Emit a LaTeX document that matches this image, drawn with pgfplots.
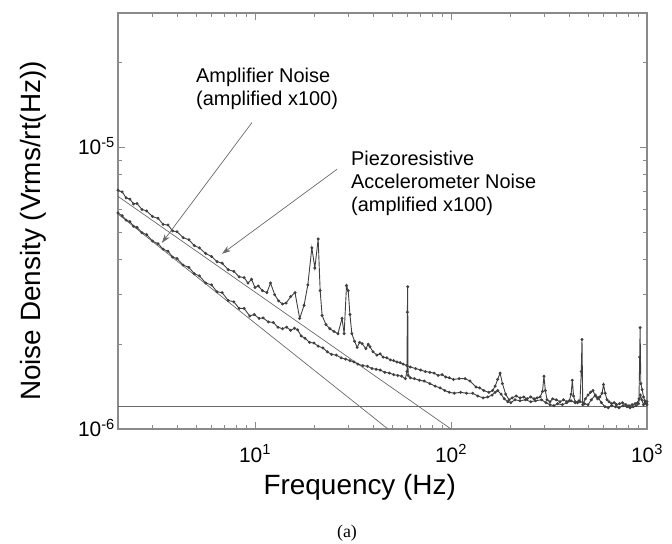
\documentclass[border=0pt]{standalone}
\usepackage{fontspec}
\setmainfont{Liberation Sans}
\newfontfamily\capfont{Liberation Serif}
\usepackage{pgfplots}
\usepackage{pgfplotstable}
\pgfplotsset{compat=1.18}
\usetikzlibrary{arrows.meta}
\definecolor{datagray}{HTML}{404040}
\definecolor{fitgray}{HTML}{6A6A6A}
\definecolor{framegray}{HTML}{8A8A8A}

% piezoresistive accelerometer noise (upper trace)
\pgfplotstableread{
f v
2.0 7.05e-6
2.1 6.95e-6
2.2 6.62e-6
2.3 6.55e-6
2.4 6.30e-6
2.5 6.32e-6
2.65 6.02e-6
2.8 5.95e-6
3.0 5.68e-6
3.2 5.60e-6
3.4 5.33e-6
3.6 5.30e-6
3.8 5.05e-6
4.0 5.02e-6
4.3 4.78e-6
4.6 4.70e-6
4.9 4.48e-6
5.2 4.40e-6
5.6 4.20e-6
6.0 4.10e-6
6.4 3.93e-6
6.8 3.88e-6
7.3 3.68e-6
7.8 3.63e-6
8.3 3.47e-6
8.8 3.45e-6
9.2 3.30e-6
9.6 3.40e-6
10.0 3.18e-6
10.4 3.22e-6
10.9 3.10e-6
11.5 3.05e-6
12.0 3.30e-6
12.6 3.00e-6
13.2 2.85e-6
13.8 2.78e-6
14.4 2.80e-6
15.2 2.95e-6
16.0 3.05e-6
16.9 2.47e-6
17.8 2.75e-6
18.6 3.25e-6
19.5 4.40e-6
20.2 3.73e-6
21.0 4.73e-6
21.5 3.10e-6
22.0 2.53e-6
23.0 2.35e-6
24.1 2.27e-6
25.3 2.22e-6
26.5 2.18e-6
27.8 2.47e-6
28.5 2.18e-6
29.3 3.23e-6
29.9 3.10e-6
30.5 2.55e-6
31.2 2.18e-6
32.2 2.05e-6
33.2 1.95e-6
34.2 2.03e-6
35.2 2.01e-6
36.8 1.93e-6
37.8 2.00e-6
38.6 1.96e-6
40.0 1.88e-6
41.9 1.83e-6
43.5 1.85e-6
45.0 1.80e-6
47.0 1.79e-6
49.0 1.76e-6
51.0 1.75e-6
53.0 1.73e-6
55.0 1.72e-6
57.0 1.70e-6
59.5 1.68e-6
62 1.66e-6
66 1.64e-6
70 1.62e-6
74 1.60e-6
78 1.59e-6
82 1.58e-6
86 1.55e-6
90 1.56e-6
94 1.53e-6
98 1.52e-6
103 1.50e-6
110 1.51e-6
118 1.51e-6
125 1.48e-6
134 1.41e-6
140 1.40e-6
147 1.37e-6
156 1.35e-6
163 1.37e-6
168 1.42e-6
173 1.50e-6
178 1.58e-6
183 1.45e-6
190 1.33e-6
198 1.27e-6
205 1.29e-6
215 1.31e-6
225 1.29e-6
235 1.30e-6
245 1.28e-6
255 1.30e-6
265 1.28e-6
275 1.29e-6
285 1.30e-6
293 1.36e-6
298 1.54e-6
303 1.37e-6
309 1.27e-6
320 1.25e-6
330 1.28e-6
344 1.27e-6
360 1.25e-6
375 1.27e-6
390 1.25e-6
401 1.26e-6
410 1.33e-6
416 1.49e-6
422 1.31e-6
430 1.25e-6
442 1.24e-6
455 1.25e-6
462 1.60e-6
466 2.08e-6
470 1.22e-6
485 1.28e-6
500 1.32e-6
515 1.35e-6
530 1.37e-6
545 1.31e-6
560 1.28e-6
575 1.30e-6
590 1.34e-6
600 1.44e-6
612 1.34e-6
625 1.27e-6
640 1.25e-6
660 1.23e-6
680 1.24e-6
700 1.22e-6
725 1.23e-6
750 1.24e-6
780 1.22e-6
810 1.21e-6
840 1.22e-6
870 1.23e-6
895 1.24e-6
910 1.28e-6
918 1.80e-6
922 2.29e-6
930 1.45e-6
945 1.38e-6
960 1.30e-6
975 1.26e-6
990 1.23e-6
1000 1.25e-6
}\piezo

% amplifier noise (lower trace)
\pgfplotstableread{
f v
2.0 5.85e-6
2.1 5.72e-6
2.2 5.52e-6
2.3 5.45e-6
2.4 5.25e-6
2.5 5.20e-6
2.65 4.98e-6
2.8 4.90e-6
3.0 4.65e-6
3.2 4.55e-6
3.4 4.35e-6
3.6 4.28e-6
3.8 4.08e-6
4.0 4.03e-6
4.3 3.82e-6
4.6 3.75e-6
4.9 3.56e-6
5.2 3.50e-6
5.6 3.30e-6
6.0 3.25e-6
6.4 3.07e-6
6.8 3.05e-6
7.3 2.86e-6
7.8 2.83e-6
8.3 2.68e-6
8.8 2.68e-6
9.4 2.52e-6
9.9 2.55e-6
10.5 2.47e-6
11.0 2.48e-6
11.7 2.40e-6
12.4 2.39e-6
13.1 2.30e-6
13.8 2.27e-6
14.5 2.30e-6
15.2 2.24e-6
15.9 2.28e-6
16.5 2.25e-6
17.2 2.14e-6
18.0 2.10e-6
19.0 2.03e-6
20.0 2.02e-6
21.0 1.97e-6
22.2 1.94e-6
23.4 1.88e-6
24.6 1.84e-6
26.0 1.83e-6
27.5 1.79e-6
29.0 1.77e-6
30.5 1.75e-6
32.0 1.73e-6
33.5 1.70e-6
35.5 1.68e-6
37.5 1.67e-6
39.5 1.64e-6
41.5 1.63e-6
43.5 1.62e-6
46.0 1.59e-6
48.5 1.58e-6
51 1.56e-6
53.5 1.55e-6
56 1.54e-6
58.5 1.51e-6
59.6 1.60e-6
59.9 2.60e-6
60.1 3.20e-6
60.4 1.55e-6
62 1.52e-6
65 1.51e-6
69 1.49e-6
73 1.48e-6
78 1.45e-6
83 1.42e-6
88 1.40e-6
93 1.37e-6
98 1.35e-6
104 1.34e-6
112 1.35e-6
120 1.34e-6
129 1.34e-6
137 1.31e-6
146 1.29e-6
154 1.30e-6
162 1.32e-6
168 1.35e-6
173 1.37e-6
180 1.33e-6
187 1.28e-6
195 1.25e-6
202 1.24e-6
212 1.27e-6
225 1.26e-6
240 1.27e-6
255 1.25e-6
270 1.26e-6
290 1.27e-6
305 1.24e-6
320 1.22e-6
335 1.21e-6
350 1.23e-6
370 1.22e-6
390 1.24e-6
410 1.26e-6
430 1.24e-6
450 1.26e-6
480 1.23e-6
500 1.22e-6
520 1.27e-6
545 1.32e-6
565 1.29e-6
585 1.24e-6
610 1.20e-6
635 1.19e-6
660 1.21e-6
690 1.20e-6
720 1.19e-6
755 1.21e-6
790 1.20e-6
820 1.19e-6
850 1.20e-6
880 1.21e-6
905 1.23e-6
925 1.32e-6
940 1.27e-6
960 1.22e-6
980 1.24e-6
1000 1.22e-6
}\amp

\begin{document}
\begin{tikzpicture}
\useasboundingbox (-118bp,-115bp) rectangle (554bp,429bp);
\begin{axis}[
  at={(0,0)}, anchor=south west,
  scale only axis,
  width=529bp, height=416bp,
  xmode=log, ymode=log,
  xmin=2, xmax=1000, ymin=1e-6, ymax=3e-5,
  xtick={10,100,1000},
  xticklabels={10\textsuperscript{1},10\textsuperscript{2},10\textsuperscript{3}},
  minor xtick={2,3,4,5,6,7,8,9,20,30,40,50,60,70,80,90,200,300,400,500,600,700,800,900},
  ytick={1e-6,1e-5},
  yticklabels={10\textsuperscript{-6},10\textsuperscript{-5}},
  minor ytick={2e-6,3e-6,4e-6,5e-6,6e-6,7e-6,8e-6,9e-6,2e-5,3e-5},
  axis line style={framegray, line width=1.4bp},
  tick style={framegray, line width=0.8bp},
  major tick length=7bp, minor tick length=4bp,
  tick label style={font=\fontsize{21}{24}\selectfont, inner sep=0pt},
  xticklabel style={anchor=base, yshift=-33bp},
  yticklabel style={anchor=base east, xshift=-3bp, yshift=-7.5bp},
  xlabel={Frequency (Hz)},
  xlabel style={at={(axis description cs:0.457,-0.15625)}, anchor=base,
    font=\fontsize{28}{32}\selectfont, inner sep=0pt},
  ylabel={Noise Density (Vrms/rt(Hz))},
  ylabel style={at={(axis description cs:-0.1474,0.476)}, anchor=base,
    font=\fontsize{28}{32}\selectfont, inner sep=0pt},
]
% fitted 1/f-type lines and white-noise floor
\addplot[fitgray, line width=0.7bp] coordinates {(2,6.7e-6) (100,1e-6)};
\addplot[fitgray, line width=0.7bp] coordinates {(2,5.8e-6) (47.7,1e-6)};
\addplot[fitgray, line width=0.7bp] coordinates {(2,1.2e-6) (1000,1.2e-6)};
% measured spectra
\addplot[datagray, line width=0.9bp, mark=*, mark size=1bp] table[x=f, y=v] {\piezo};
\addplot[datagray, line width=0.9bp, mark=*, mark size=1bp] table[x=f, y=v] {\amp};
% annotation arrows
\draw[fitgray, line width=0.7bp, -{Stealth[length=9bp, width=6bp]}]
  (axis cs:9.65,1.225e-5) -- (axis cs:3.35,4.58e-6);
\draw[fitgray, line width=0.7bp, -{Stealth[length=9bp, width=6bp]}]
  (axis cs:26.2,8.36e-6) -- (axis cs:6.79,4.19e-6);
\end{axis}
\node[anchor=north west, align=left, inner sep=0pt, font=\fontsize{20}{23}\selectfont]
  at (78bp,361bp) {Amplifier Noise\\(amplified x100)};
\node[anchor=north west, align=left, inner sep=0pt, font=\fontsize{20}{23}\selectfont]
  at (233bp,278bp) {Piezoresistive\\Accelerometer Noise\\(amplified x100)};
\node[anchor=base, inner sep=0pt, font=\capfont\fontsize{18}{20}\selectfont]
  at (229bp,-108bp) {(a)};
\end{tikzpicture}
\end{document}
